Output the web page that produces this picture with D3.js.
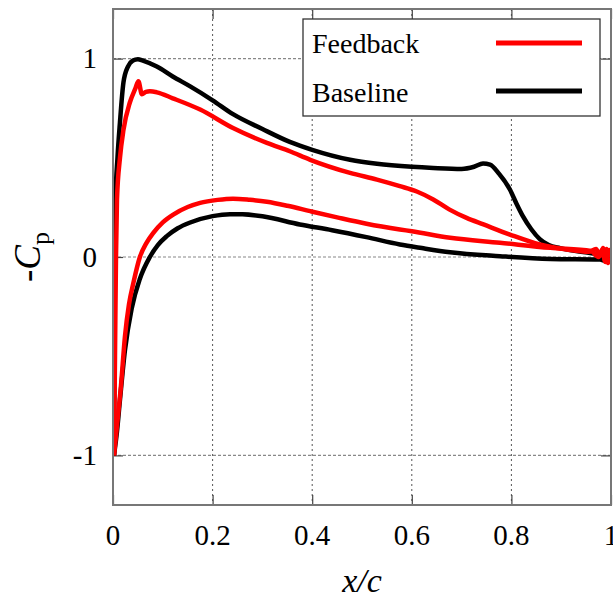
<!DOCTYPE html>
<html>
<head>
<meta charset="utf-8">
<script src="https://cdn.jsdelivr.net/npm/d3@7"></script>
<style>
    body { margin: 0; background: #fff; }
    svg text { font-family: "Liberation Serif", "DejaVu Serif", serif; }
</style>
</head>
<body>
<div id="chart"></div>
<script>
// -Cp along the chord: [x/c, -Cp]
const feedbackUpper = [
    [0.002, -1.0], [0.004, -0.5], [0.006, 0.0], [0.008, 0.29], [0.014, 0.5], [0.021, 0.64],
    [0.034, 0.78], [0.045, 0.85], [0.051, 0.886], [0.058, 0.82], [0.066, 0.832], [0.074, 0.835],
    [0.088, 0.83], [0.12, 0.8], [0.175, 0.743], [0.241, 0.65], [0.309, 0.575], [0.355, 0.533],
    [0.396, 0.49], [0.476, 0.424], [0.53, 0.39], [0.576, 0.357], [0.61, 0.33], [0.643, 0.29],
    [0.675, 0.24], [0.71, 0.197], [0.744, 0.164], [0.797, 0.113], [0.857, 0.063], [0.911, 0.038],
    [0.955, 0.026], [0.97, 0.04], [0.978, 0.005], [0.984, 0.045], [0.988, -0.02], [0.991, 0.04],
    [0.994, -0.03], [0.997, 0.035], [1.0, 0.0]
];
const feedbackLower = [
    [0.002, -1.0], [0.008, -0.85], [0.016, -0.65], [0.024, -0.4], [0.032, -0.24], [0.041, -0.13],
    [0.054, 0.0], [0.067, 0.07], [0.081, 0.122], [0.1, 0.175], [0.121, 0.214], [0.15, 0.252],
    [0.175, 0.273], [0.21, 0.288], [0.241, 0.294], [0.275, 0.288], [0.309, 0.278], [0.35, 0.258],
    [0.396, 0.231], [0.45, 0.2], [0.509, 0.168], [0.576, 0.139], [0.6, 0.13], [0.677, 0.097],
    [0.777, 0.072], [0.878, 0.046], [0.96, 0.03], [0.975, 0.0], [0.982, 0.035], [0.989, -0.025],
    [0.995, 0.03], [1.0, 0.0]
];
const baselineUpper = [
    [0.002, -1.0], [0.003, -0.5], [0.004, 0.0], [0.005, 0.29], [0.009, 0.5], [0.014, 0.68],
    [0.021, 0.88], [0.03, 0.96], [0.04, 0.99], [0.05, 0.997], [0.06, 0.99], [0.088, 0.96],
    [0.12, 0.91], [0.155, 0.86], [0.2, 0.79], [0.241, 0.72], [0.3, 0.645], [0.355, 0.58],
    [0.4, 0.54], [0.476, 0.49], [0.53, 0.47], [0.6, 0.455], [0.643, 0.449], [0.7, 0.444],
    [0.725, 0.455], [0.743, 0.471], [0.757, 0.465], [0.775, 0.42], [0.797, 0.34], [0.81, 0.27],
    [0.823, 0.206], [0.84, 0.14], [0.857, 0.09], [0.875, 0.06], [0.898, 0.045], [0.93, 0.03],
    [0.958, 0.02], [0.98, 0.01], [0.99, -0.015], [0.995, 0.015], [1.0, 0.0]
];
const baselineLower = [
    [0.002, -1.0], [0.008, -0.88], [0.014, -0.72], [0.024, -0.47], [0.0375, -0.26], [0.054, -0.11],
    [0.074, 0.0], [0.09, 0.06], [0.108, 0.105], [0.13, 0.145], [0.155, 0.174], [0.2, 0.206],
    [0.235, 0.216], [0.26, 0.215], [0.3, 0.205], [0.375, 0.164], [0.44, 0.135], [0.509, 0.1],
    [0.576, 0.063], [0.62, 0.045], [0.677, 0.024], [0.777, 0.004], [0.878, -0.01], [0.978, -0.013],
    [0.99, -0.02], [1.0, 0.0]
];

const xTicks = [0, 0.2, 0.4, 0.6, 0.8, 1];
const yTicks = [-1, 0, 1];
const seriesNames = ["Feedback", "Baseline"];
const seriesColors = ["#ff0000", "#000000"];

const width = 613, height = 601;
const margin = { top: 9, right: 2, bottom: 96, left: 113 };
const plotW = width - margin.left - margin.right;
const plotH = height - margin.top - margin.bottom;

const x = d3.scaleLinear().domain([0, 1]).range([0, plotW]);
const y = d3.scaleLinear().domain([-1.25, 1.25]).range([plotH, 0]);

const svg = d3.select("#chart").append("svg")
    .attr("width", width)
    .attr("height", height);

svg.append("defs").append("clipPath").attr("id", "clip")
    .append("rect").attr("width", plotW).attr("height", plotH);

const g = svg.append("g").attr("transform", `translate(${margin.left},${margin.top})`);

// grid
g.selectAll(".gx").data(xTicks.slice(1, -1)).join("line")
    .attr("x1", d => x(d)).attr("x2", d => x(d))
    .attr("y1", 0).attr("y2", plotH)
    .attr("stroke", "#555").attr("stroke-width", 1).attr("stroke-dasharray", "2,3");
g.selectAll(".gy").data(yTicks).join("line")
    .attr("x1", 0).attr("x2", plotW)
    .attr("y1", d => y(d)).attr("y2", d => y(d))
    .attr("stroke", "#888").attr("stroke-width", 1.2).attr("stroke-dasharray", "3,2");

// axes with inward ticks, mirrored on top and right
const tickLen = 10;
g.append("g").attr("transform", `translate(0,${plotH})`)
    .call(d3.axisBottom(x).tickValues(xTicks).tickSize(-tickLen).tickFormat(""));
g.append("g")
    .call(d3.axisTop(x).tickValues(xTicks).tickSize(-tickLen).tickFormat(""));
g.append("g")
    .call(d3.axisLeft(y).tickValues(yTicks).tickSize(-tickLen).tickFormat(""));
g.append("g").attr("transform", `translate(${plotW},0)`)
    .call(d3.axisRight(y).tickValues(yTicks).tickSize(-tickLen).tickFormat(""));
g.selectAll(".domain").remove();
g.selectAll(".tick line").attr("stroke", "#444").attr("stroke-width", 1.2);

// tick labels
g.selectAll(".xl").data(xTicks).join("text")
    .attr("x", d => x(d)).attr("y", plotH + 40)
    .attr("text-anchor", "middle")
    .attr("font-size", 29)
    .text(d => d3.format("~g")(d));
g.selectAll(".yl").data(yTicks).join("text")
    .attr("x", -16).attr("y", d => y(d))
    .attr("dy", "0.34em")
    .attr("text-anchor", "end")
    .attr("font-size", 29)
    .text(d => d);

// curves
const line = d3.line().curve(d3.curveMonotoneX).x(d => x(d[0])).y(d => y(d[1]));
const curves = g.append("g").attr("clip-path", "url(#clip)");
const allSeries = [
    { data: baselineLower, color: seriesColors[1] },
    { data: baselineUpper, color: seriesColors[1] },
    { data: feedbackLower, color: seriesColors[0] },
    { data: feedbackUpper, color: seriesColors[0] }
];
curves.selectAll("path").data(allSeries).join("path")
    .attr("d", d => line(d.data))
    .attr("fill", "none")
    .attr("stroke", d => d.color)
    .attr("stroke-width", 4.5)
    .attr("stroke-linejoin", "round");

// border
g.append("rect").attr("width", plotW).attr("height", plotH)
    .attr("fill", "none").attr("stroke", "#777").attr("stroke-width", 2);

// legend
const legend = g.append("g").attr("transform", `translate(${303 - margin.left},${19 - margin.top})`);
legend.append("rect").attr("width", 297).attr("height", 97)
    .attr("fill", "#fff").attr("stroke", "#333").attr("stroke-width", 1.3);
seriesNames.forEach((name, i) => {
    legend.append("text")
        .attr("x", 9).attr("y", 34 + i * 49)
        .attr("font-size", 28)
        .text(name);
    legend.append("line")
        .attr("x1", 193).attr("x2", 279)
        .attr("y1", 24 + i * 48).attr("y2", 24 + i * 48)
        .attr("stroke", seriesColors[i]).attr("stroke-width", 5);
});

// axis titles
svg.append("text")
    .attr("x", margin.left + plotW / 2).attr("y", 592)
    .attr("text-anchor", "middle")
    .attr("font-size", 34)
    .attr("font-style", "italic")
    .text("x/c");

const yTitle = svg.append("text")
    .attr("transform", "translate(40,257) rotate(-90)")
    .attr("text-anchor", "middle")
    .attr("font-size", 37);
yTitle.append("tspan").text("-");
yTitle.append("tspan").attr("font-style", "italic").text("C");
yTitle.append("tspan").attr("font-size", 26).attr("dy", 9).text("p");
</script>
</body>
</html>
